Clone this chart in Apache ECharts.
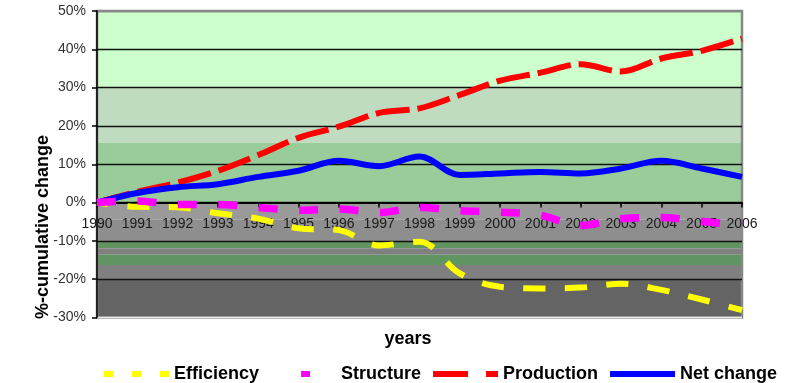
<!DOCTYPE html>
<html>
<head>
<meta charset="utf-8">
<script src="https://cdn.jsdelivr.net/npm/echarts@6/dist/echarts.min.js"></script>
<style>
  html, body { margin: 0; padding: 0; background: #fff; }
  #chart { width: 788px; height: 383px; }
</style>
</head>
<body>
<div id="chart"></div>
<script>
// Decomposition of cumulative change since 1990 (in %)
const years = ['1990', '1991', '1992', '1993', '1994', '1995', '1996', '1997', '1998',
               '1999', '2000', '2001', '2002', '2003', '2004', '2005', '2006'];
const efficiency = [0, -1.1, -1.2, -2.8, -4.2, -6.7, -7.2, -11.2, -10.2, -18.5, -22.0, -22.4, -22.2, -21.2, -22.8, -25.3, -28.1];
const structure  = [0, 0.4, -0.5, -0.5, -1.3, -2.0, -1.7, -2.6, -1.3, -2.1, -2.5, -3.3, -6.0, -4.2, -3.9, -4.9, -6.0];
const production = [0, 2.8, 5.2, 8.3, 12.4, 16.9, 19.8, 23.4, 24.6, 28.1, 31.8, 33.9, 36.1, 34.2, 37.6, 39.6, 42.8];
const netChange  = [0, 2.5, 4.0, 4.8, 6.7, 8.3, 10.9, 9.5, 12.0, 7.2, 7.6, 8.0, 7.6, 8.9, 10.9, 8.9, 6.7];

// Value axis ticks
const yMin = -30, yMax = 50, yStep = 10;

// Shaded background bands of the plot area
const bandEdges  = [50, 30, 15.6, 0, -4.5, -10, -11.9, -13.6, -16.3, -20, -30];
const bandColors = ['#ccffcc', '#c0dcc0', '#99cc99', '#9a9a9a', '#8e8e8e',
                    '#609460', '#808080', '#609460', '#808080', '#646464'];

const GRID_TOP = 11, GRID_BOTTOM = 65.5, HEIGHT = 383;
const plotHeight = HEIGHT - GRID_TOP - GRID_BOTTOM;
// category axis sits on the zero line of the value axis
const zeroOffset = -plotHeight * (0 - yMin) / (yMax - yMin);

const chart = echarts.init(document.getElementById('chart'));

const bandAreas = bandColors.map((c, i) => [
  { yAxis: bandEdges[i], itemStyle: { color: c } },
  { yAxis: bandEdges[i + 1] }
]);

const gridLineColors = [];
for (let v = yMin; v <= yMax; v += yStep) {
  gridLineColors.push(v === yMin ? '#eeeeee' : (v === yMax ? '#888888' : '#111111'));
}

const FONT = 'Liberation Sans, Arial, sans-serif';

chart.setOption({
  animation: false,
  backgroundColor: '#ffffff',
  grid: {
    left: 97, right: 46, top: GRID_TOP, bottom: GRID_BOTTOM,
    show: true, borderColor: '#888888', borderWidth: 2.5, backgroundColor: 'transparent'
  },
  xAxis: {
    type: 'category',
    data: years,
    boundaryGap: false,
    position: 'bottom',
    offset: zeroOffset,
    z: 1,
    axisLine: { onZero: false, lineStyle: { color: '#000', width: 2 } },
    axisTick: { show: true, length: 5, lineStyle: { color: '#000', width: 1.5 } },
    axisLabel: { interval: 0, margin: 15, color: '#1a1a1a', fontSize: 14, fontFamily: FONT },
    splitLine: { show: false }
  },
  yAxis: {
    type: 'value',
    min: yMin, max: yMax, interval: yStep,
    z: 1,
    axisLine: { show: true, lineStyle: { color: '#000', width: 1.5 } },
    axisTick: { show: true, length: 5, lineStyle: { color: '#000', width: 1.5 } },
    axisLabel: { formatter: '{value}%', margin: 11, color: '#333', fontSize: 14, fontFamily: FONT },
    splitLine: { show: true, lineStyle: { color: gridLineColors, width: 1.3 } }
  },
  legend: {
    left: 101, top: 365, padding: 0, width: 700,
    itemWidth: 65, itemHeight: 14, itemGap: 9,
    textStyle: { fontSize: 18, fontWeight: 'bold', color: '#000', fontFamily: FONT },
    data: [
      { name: 'Efficiency', lineStyle: { width: 6, type: [9, 19], dashOffset: 0 }, itemStyle: { opacity: 0 } },
      { name: 'Structure', lineStyle: { width: 6, type: [9, 60], dashOffset: 39 }, itemStyle: { opacity: 0 } },
      { name: 'Production', lineStyle: { width: 6, type: [35, 18], dashOffset: 0 }, itemStyle: { opacity: 0 } },
      { name: 'Net change', lineStyle: { width: 6 }, itemStyle: { opacity: 0 } }
    ]
  },
  graphic: [
    {
      type: 'text', x: 408, y: 339,
      style: { text: 'years', font: 'bold 18px ' + FONT, fill: '#000',
               textAlign: 'center', textVerticalAlign: 'middle' }
    },
    {
      type: 'text', x: 43, y: 227, rotation: Math.PI / 2,
      style: { text: '%-cumulative change', font: 'bold 18px ' + FONT, fill: '#000',
               textAlign: 'center', textVerticalAlign: 'middle' }
    }
  ],
  series: [
    {
      name: 'bands', type: 'line', data: [], z: -1, silent: true,
      markArea: { silent: true, z: -5, data: bandAreas }
    },
    {
      name: 'Efficiency', type: 'line', data: efficiency, smooth: 0.35, symbol: 'none', z: 3,
      lineStyle: { color: '#ffff00', width: 6, type: [22, 19.6], dashOffset: 11, cap: 'butt' },
      itemStyle: { color: '#ffff00' }
    },
    {
      name: 'Structure', type: 'line', data: structure, smooth: 0.35, symbol: 'none', z: 6,
      lineStyle: { color: '#ff00ff', width: 7.5, type: [19, 21.5], cap: 'butt' },
      itemStyle: { color: '#ff00ff' }
    },
    {
      name: 'Production', type: 'line', data: production, smooth: 0.35, symbol: 'none', z: 4,
      lineStyle: { color: '#ff0000', width: 6, type: [34, 7.9], cap: 'butt' },
      itemStyle: { color: '#ff0000' }
    },
    {
      name: 'Net change', type: 'line', data: netChange, smooth: 0.35, symbol: 'none', z: 5,
      lineStyle: { color: '#0000ff', width: 6 },
      itemStyle: { color: '#0000ff' }
    }
  ]
});
</script>
</body>
</html>
